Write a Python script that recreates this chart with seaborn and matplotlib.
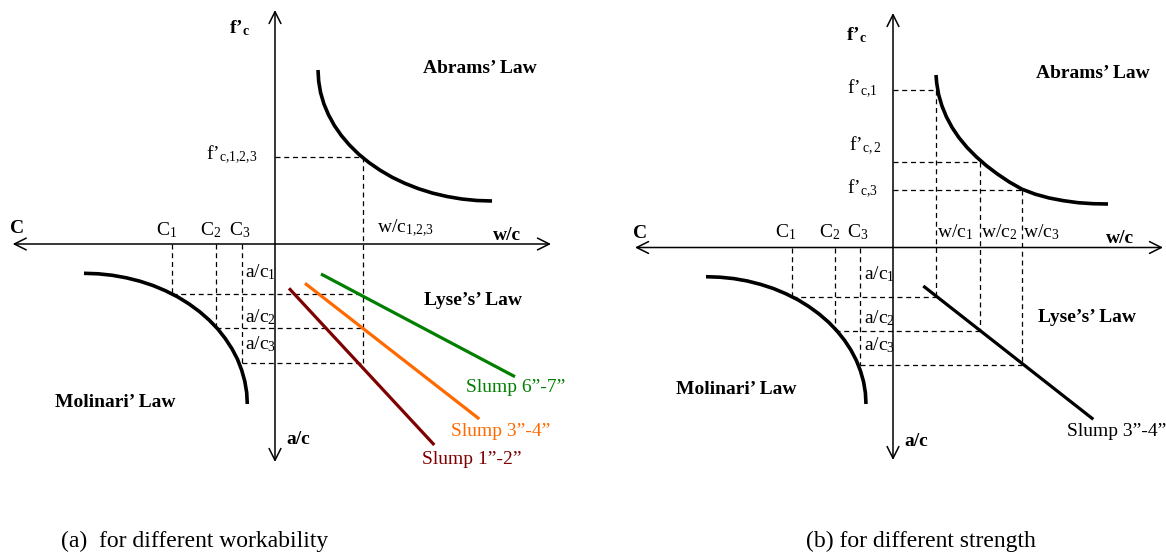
#%% Package Imports

import matplotlib.pyplot as plt
import seaborn as sns

sns.set_theme(style='white')
plt.rcParams['font.family'] = ['Liberation Serif', 'DejaVu Serif']
plt.rcParams['text.color'] = 'black'
plt.rcParams['mathtext.fontset'] = 'custom'
plt.rcParams['mathtext.rm'] = 'Liberation Serif'
plt.rcParams['mathtext.it'] = 'Liberation Serif:italic'
plt.rcParams['mathtext.bf'] = 'Liberation Serif:bold'

#%% Panel (a) values (origin at the axis crossing, w/c and f'c positive)

a_cement = [-103.3, -59.3, -33.5]          # C1, C2, C3
a_agg = [-50.0, -84.3, -119.3]             # a/c1, a/c2, a/c3
a_wc = 87.7                                # w/c 1,2,3
a_fc = 87.3                                # f'c 1,2,3
a_abrams_x = [43, 43.7, 45.6, 48.9, 53.5, 59.3, 66.3, 74.5, 83.7, 94.0,
              105.2, 117.2, 130, 143.5, 157.5, 172, 186.8, 201.8, 217]
a_abrams_y = [174, 162.6, 151.3, 140.1, 129.2, 118.6, 108.5, 98.9, 89.8, 81.4,
              73.7, 66.7, 60.6, 55.3, 50.9, 47.5, 45, 43.5, 43]
a_molinari_x = [-191, -176.8, -162.6, -148.7, -135.1, -122, -109.4, -97.3, -86, -75.5,
                -65.9, -57.2, -49.6, -43, -37.5, -33.3, -30.2, -28.3, -27.7]
a_molinari_y = [-29.3, -29.8, -31.3, -33.8, -37.2, -41.5, -46.8, -52.9, -59.9, -67.6,
                -76, -85, -94.7, -104.8, -115.3, -126.2, -137.3, -148.6, -160]
slump_names = ['Slump 1\u201d-2\u201d', 'Slump 3\u201d-4\u201d', 'Slump 6\u201d-7\u201d']
slump_x = [[14, 159.3], [30, 204.3], [46, 240]]
slump_y = [[-44.3, -201], [-39.3, -175], [-30, -132.7]]
slump_colors = ['#7f0000', '#ff6a00', '#007f00']

#%% Panel (b) values

b_cement = [-101.3, -58, -33]
b_agg = [-49.2, -83.2, -117.5]
b_wc = [43, 87.3, 129.3]
b_fc = [157.5, 85.8, 57.5]
b_abrams_x = [43, 43.7, 45.6, 48.9, 53.4, 59.1, 66.0, 74.1, 83.2, 93.4,
              104.4, 116.3, 129, 142.3, 156.2, 170.5, 185.1, 200, 215]
b_abrams_y = [172.5, 164.4, 153, 141.7, 130.7, 120, 109.8, 100, 90.8, 81.8,
              73.5, 65.5, 58.3, 53.3, 49.5, 46.8, 44.8, 43.8, 43.5]
b_molinari_x = [-187, -173.1, -159.2, -145.6, -132.3, -119.4, -107, -95.2, -84.2, -73.9,
                -64.4, -55.9, -48.4, -42, -36.6, -32.5, -29.4, -27.6, -27]
b_molinari_y = [-29.2, -29.7, -31.1, -33.5, -36.9, -41.1, -46.3, -52.2, -59, -66.5,
                -74.7, -83.5, -92.9, -102.7, -113, -123.5, -134.4, -145.4, -156.5]
b_slump_x = [30.3, 200.3]
b_slump_y = [-38.5, -171.8]

#%% Figure

fig = plt.figure(figsize=(11.66, 5.56), dpi=100)
ax_a = fig.add_axes([0, 0, 0.5, 1])
ax_b = fig.add_axes([0.5, 0, 0.5, 1])
ax_a.set_xlim(-275, 308)
ax_a.set_ylim(-312, 244)
ax_b.set_xlim(-310, 273)
ax_b.set_ylim(-308.5, 247.5)

fs = 14
dash = dict(color='black', linewidth=0.9, linestyle=(0, (4, 3)), zorder=1)
arrow = dict(arrowstyle='<->,head_length=0.5,head_width=0.25', color='black',
             lw=1.1, shrinkA=0, shrinkB=0, mutation_scale=17)

for ax, xl, xr, yt, yb in [(ax_a, -262.3, 276, 234, -218), (ax_b, -258, 270, 234.5, -212.5)]:
    ax.axis('off')
    ax.annotate('', xy=(xl, 0), xytext=(xr, 0), arrowprops=arrow, zorder=2)
    ax.annotate('', xy=(0, yt), xytext=(0, yb), arrowprops=arrow, zorder=2)

#%% Panel (a)

ax_a.plot([0, a_wc], [a_fc, a_fc], **dash)
ax_a.plot([a_wc, a_wc], [a_fc, a_agg[2]], **dash)
for c, g in zip(a_cement, a_agg):
    ax_a.plot([c, c], [0, g], **dash)
    ax_a.plot([c, a_wc], [g, g], **dash)

sns.lineplot(x=a_abrams_x, y=a_abrams_y, sort=False, estimator=None, color='black',
             linewidth=2.6, solid_capstyle='butt', ax=ax_a)
sns.lineplot(x=a_molinari_x, y=a_molinari_y, sort=False, estimator=None, color='black',
             linewidth=2.6, solid_capstyle='butt', ax=ax_a)
for sx, sy, col in zip(slump_x, slump_y, slump_colors):
    sns.lineplot(x=sx, y=sy, sort=False, estimator=None, color=col, linewidth=2.3,
                 solid_capstyle='butt', ax=ax_a)

ax_a.text(-36, 211, 'f\u2019$_\\mathbf{c}$', fontsize=fs, fontweight='bold', ha='center', va='baseline')
ax_a.text(-257.5, 11, 'C', fontsize=fs, fontweight='bold', ha='center', va='baseline')
ax_a.text(218, 4, 'w/c', fontsize=fs, fontweight='bold', ha='left', va='baseline')
ax_a.text(11, -200, 'a/c', fontsize=fs, fontweight='bold', ha='left', va='baseline')
for x, i in zip([-108, -64.5, -35.5], ['1', '2', '3']):
    ax_a.text(x, 9, 'C$_\\mathrm{%s}$' % i, fontsize=fs, ha='center', va='baseline')
for y, i in zip([-33, -78, -105], ['1', '2', '3']):
    ax_a.text(-30, y, 'a/c$_\\mathrm{%s}$' % i, fontsize=fs, ha='left', va='baseline')
ax_a.text(102, 12, 'w/c$_\\mathrm{1{,}2{,}3}$', fontsize=fs, ha='left', va='baseline')
ax_a.text(-18, 85, 'f\u2019$_\\mathrm{c{,}1{,}2{,}3}$', fontsize=fs, ha='right', va='baseline')

ax_a.text(204.5, 175, 'Abrams\u2019 Law', fontsize=fs, fontweight='bold', ha='center', va='center')
ax_a.text(197.5, -57, 'Lyse\u2019s\u2019 Law', fontsize=fs, fontweight='bold', ha='center', va='center')
ax_a.text(-159.5, -159, 'Molinari\u2019 Law', fontsize=fs, fontweight='bold', ha='center', va='center')
for x, y, name, col in zip([147, 176, 191], [-216, -188, -144], slump_names, slump_colors):
    ax_a.text(x, y, name, fontsize=fs, color=col, ha='left', va='center')

#%% Panel (b)

for c, g, w, f in zip(b_cement, b_agg, b_wc, b_fc):
    ax_b.plot([0, w], [f, f], **dash)
    ax_b.plot([w, w], [f, g], **dash)
    ax_b.plot([c, c], [0, g], **dash)
    ax_b.plot([c, w], [g, g], **dash)

sns.lineplot(x=b_abrams_x, y=b_abrams_y, sort=False, estimator=None, color='black',
             linewidth=2.6, solid_capstyle='butt', ax=ax_b)
sns.lineplot(x=b_molinari_x, y=b_molinari_y, sort=False, estimator=None, color='black',
             linewidth=2.6, solid_capstyle='butt', ax=ax_b)
sns.lineplot(x=b_slump_x, y=b_slump_y, sort=False, estimator=None, color='black',
             linewidth=2.3, solid_capstyle='butt', ax=ax_b)

ax_b.text(-36.5, 207.5, 'f\u2019$_\\mathbf{c}$', fontsize=fs, fontweight='bold', ha='center', va='baseline')
ax_b.text(-253, 9.5, 'C', fontsize=fs, fontweight='bold', ha='center', va='baseline')
ax_b.text(213, 4.5, 'w/c', fontsize=fs, fontweight='bold', ha='left', va='baseline')
ax_b.text(11, -198.5, 'a/c', fontsize=fs, fontweight='bold', ha='left', va='baseline')
for x, i in zip([-107, -63, -35], ['1', '2', '3']):
    ax_b.text(x, 10.5, 'C$_\\mathrm{%s}$' % i, fontsize=fs, ha='center', va='baseline')
for y, i in zip([-31.5, -75.5, -102.5], ['1', '2', '3']):
    ax_b.text(-29, y, 'a/c$_\\mathrm{%s}$' % i, fontsize=fs, ha='left', va='baseline')
for x, i in zip([44, 88, 130], ['1', '2', '3']):
    ax_b.text(x, 10.5, 'w/c$_\\mathrm{%s}$' % i, fontsize=fs, ha='left', va='baseline')
for x, y, s in zip([-15, -11.5, -15], [154.5, 97.5, 54.5], ['c{,}1', 'c, 2', 'c{,}3']):
    ax_b.text(x, y, 'f\u2019$_\\mathrm{%s}$' % s, fontsize=fs, ha='right', va='baseline')

ax_b.text(200, 173.5, 'Abrams\u2019 Law', fontsize=fs, fontweight='bold', ha='center', va='center')
ax_b.text(193.5, -70.5, 'Lyse\u2019s\u2019 Law', fontsize=fs, fontweight='bold', ha='center', va='center')
ax_b.text(-157, -141.5, 'Molinari\u2019 Law', fontsize=fs, fontweight='bold', ha='center', va='center')
ax_b.text(173.7, -184.5, 'Slump 3\u201d-4\u201d', fontsize=fs, ha='left', va='center')

#%% Captions

fig.text(194.5 / 1166, 1 - 541 / 556, '(a)  for different workability', fontsize=17, ha='center', va='center')
fig.text(921 / 1166, 1 - 541 / 556, '(b) for different strength', fontsize=17, ha='center', va='center')

fig.savefig('out.png', dpi=100)
